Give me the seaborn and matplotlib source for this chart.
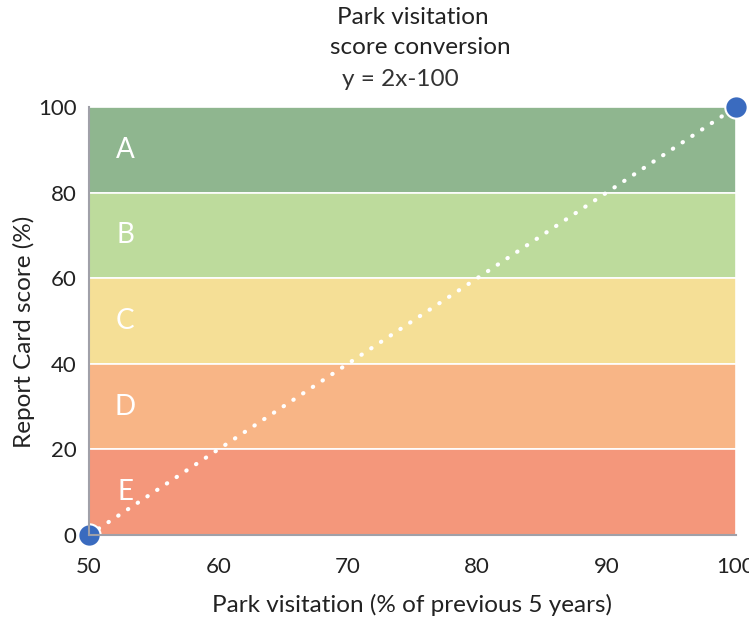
import matplotlib
matplotlib.use("Agg")
import matplotlib.pyplot as plt
import seaborn as sns
import pandas as pd

# Data
grade_labels = ["A", "B", "C", "D", "E"]
band_lower = [80, 60, 40, 20, 0]
band_upper = [100, 80, 60, 40, 20]
band_colors = ["#8fb68f", "#bddb9c", "#f5df96", "#f8b586", "#f4977b"]
visitation = [50, 100]
score = [0, 100]
x_ticks = [50, 60, 70, 80, 90, 100]
y_ticks = [0, 20, 40, 60, 80, 100]

sns.set_theme(style="white")
plt.rcParams['font.family'] = ['Lato', 'DejaVu Sans']

fig = plt.figure(figsize=(7.49, 6.23), dpi=100)
ax = fig.add_axes([89/749, 1-535/623, (736-89)/749, (535-107)/623])

for lab, lo, hi, c in zip(grade_labels, band_lower, band_upper, band_colors):
    ax.axhspan(lo, hi, facecolor=c, edgecolor="white", linewidth=1.2, zorder=0)
    ax.text(52.8, (lo + hi) / 2, lab, color="white", fontsize=20,
            ha="center", va="center", zorder=2)

df = pd.DataFrame({"x": visitation, "y": score})
sns.lineplot(data=df, x="x", y="y", ax=ax, color="white", linewidth=3,
             linestyle=(0, (0.1, 2.7)), dash_capstyle="round", zorder=3)
sns.scatterplot(data=df, x="x", y="y", ax=ax, color="#3a6bbf", s=260,
                edgecolor="white", linewidth=1.5, zorder=4, clip_on=False)

ax.set_xlim(50, 100)
ax.set_ylim(0, 100)
ax.set_xticks(x_ticks)
ax.set_yticks(y_ticks)
ax.tick_params(axis="x", length=6, width=1.5, color="#a0a0a8", labelsize=16,
               labelcolor="#222222", pad=10)
ax.tick_params(axis="y", length=0, labelsize=16, labelcolor="#222222", pad=9)
for s in ["top", "right"]:
    ax.spines[s].set_visible(False)
for s in ["left", "bottom"]:
    ax.spines[s].set_color("#a0a0a8")
    ax.spines[s].set_linewidth(1.5)
    ax.spines[s].set_zorder(5)

ax.set_xlabel("Park visitation (% of previous 5 years)", fontsize=17.5,
              color="#222222", labelpad=12)
ax.set_ylabel("Report Card score (%)", fontsize=17.5, color="#222222")
ax.yaxis.set_label_coords(-0.083, 0.474)

fig.text(413/749, 1-17/623, "Park visitation", ha="center", va="center",
         fontsize=17.5, color="#222222")
fig.text(420/749, 1-48/623, "score conversion", ha="center", va="center",
         fontsize=17.5, color="#222222")
fig.text(400/749, 1-80/623, "y = 2x-100", ha="center", va="center",
         fontsize=17.5, color="#333333")

fig.savefig("out.png", dpi=100)
